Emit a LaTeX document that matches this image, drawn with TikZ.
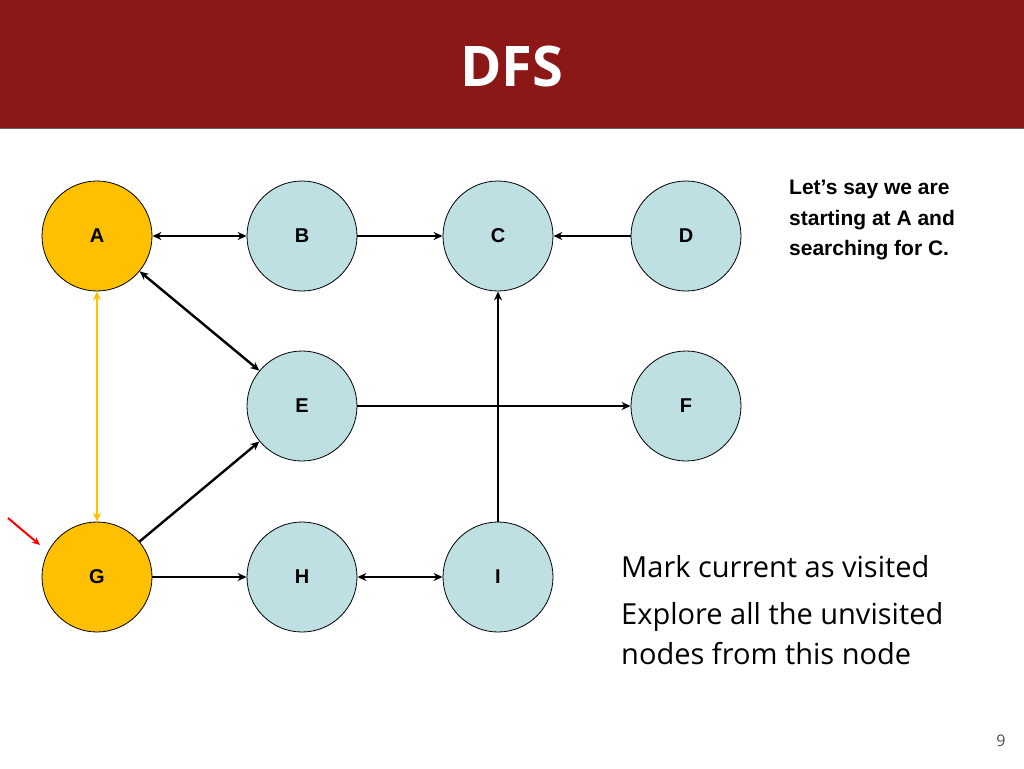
\documentclass[tikz,border=0pt]{standalone}
\usepackage{fontspec}
\setmainfont{Liberation Sans}
\newfontfamily\osans{Open Sans}
\usetikzlibrary{arrows.meta}
\definecolor{barred}{HTML}{8B1717}
\definecolor{nblue}{HTML}{BEE0E3}
\definecolor{norange}{HTML}{FFC000}
\begin{document}
\begin{tikzpicture}[x=1pt,y=-1pt,
  nd/.style={circle,draw=black,line width=0.8pt,minimum size=110pt,inner sep=0pt,fill=nblue,font=\fontsize{20}{24}\selectfont\bfseries},
  vis/.style={fill=norange},
  ed/.style={line width=2.4pt,-{Stealth[length=9pt,width=8pt]}},
  bd/.style={line width=2.4pt,{Stealth[length=9pt,width=8pt]}-{Stealth[length=9pt,width=8pt]}}]
\useasboundingbox (0,0) rectangle (1024,768);
\fill[barred] (0,0) rectangle (1024,128);
\draw[black!60,line width=0.8pt] (0,128) -- (1024,128);
\node[text=white,font=\osans\bfseries\fontsize{56}{60}\selectfont] (title) at (512,66) {DFS};
\node[nd,vis] (A) at (97,236) {A};
\node[nd] (B) at (302,236) {B};
\node[nd] (C) at (498,236) {C};
\node[nd] (D) at (686,236) {D};
\node[nd] (E) at (302,406) {E};
\node[nd] (F) at (686,406) {F};
\node[nd,vis] (G) at (97,577) {G};
\node[nd] (H) at (302,577) {H};
\node[nd] (I) at (498,577) {I};
\draw[bd] (A) -- (B);
\draw[ed] (B) -- (C);
\draw[ed] (D) -- (C);
\draw[bd] (A) -- (E);
\draw[ed] (E) -- (F);
\draw[ed] (G) -- (E);
\draw[ed] (G) -- (H);
\draw[bd] (H) -- (I);
\draw[ed] (I) -- (C);
\draw[bd,norange] (A) -- (G);
\coordinate (r0) at (8,518);
\coordinate (r1) at (40,545);
\draw[line width=2pt,red,-{Stealth[length=8pt,width=7pt]}] (r0) -- (r1);
\node[anchor=north west,align=left,font=\bfseries\fontsize{21}{30.5}\selectfont,inner sep=0pt] (t1) at (789,180) {Let’s say we are\\starting at A and\\searching for C.};
\node[anchor=north west,align=left,font=\osans\fontsize{29}{40}\selectfont,inner sep=0pt] (t2) at (621,555) {Mark current as visited};
\node[anchor=north west,align=left,font=\osans\fontsize{29}{40}\selectfont,inner sep=0pt] (t3) at (621,602) {Explore all the unvisited\\nodes from this node};
\node[font=\osans\fontsize{16}{18}\selectfont,text=black!70] (pg) at (1001,741) {9};
\end{tikzpicture}
\end{document}
